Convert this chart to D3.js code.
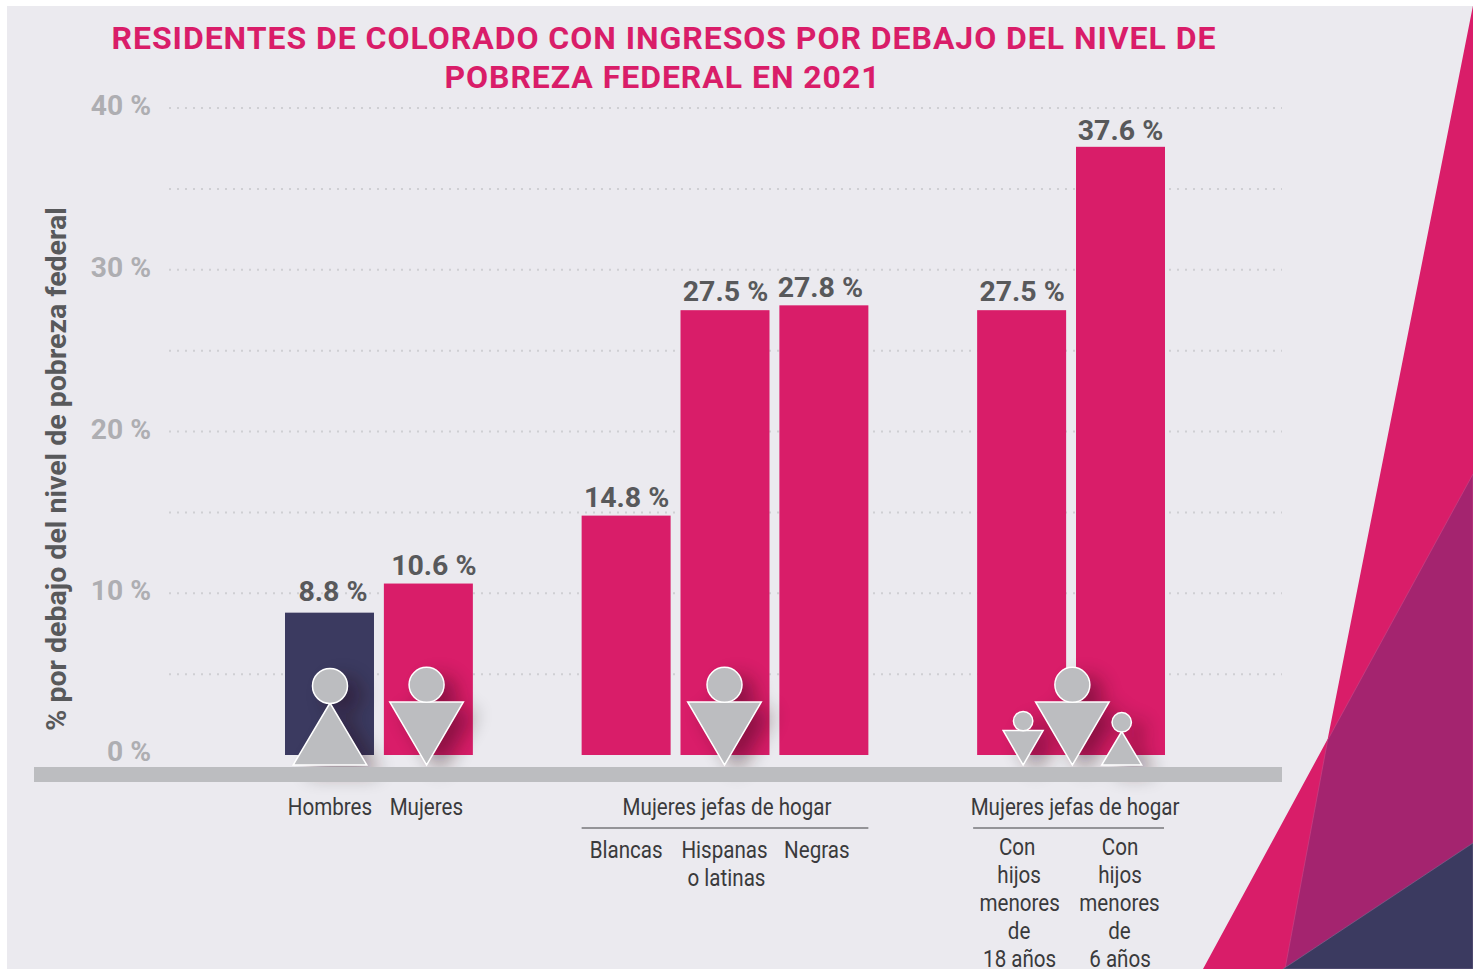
<!DOCTYPE html>
<html><head><meta charset="utf-8">
<script src="https://cdn.jsdelivr.net/npm/d3@7/dist/d3.min.js"></script>
<style>html,body{margin:0;padding:0;background:#fff;overflow:hidden}svg{display:block}text{font-family:Roboto,sans-serif}</style>
</head><body><svg id="c" width="1473" height="969"></svg>
<script>
// ---- data ----
const titleLines = ["RESIDENTES DE COLORADO CON INGRESOS POR DEBAJO DEL NIVEL DE","POBREZA FEDERAL EN 2021"];
const yAxisTitle = "% por debajo del nivel de pobreza federal";
const slots = ["Hombres","Mujeres","_a","Blancas","Hispanas o latinas","Negras","_b","Hijos menores de 18","Hijos menores de 6"];
const barCategories = ["Hombres","Mujeres","Blancas","Hispanas o latinas","Negras","Hijos menores de 18","Hijos menores de 6"];
const barValues = [8.8,10.6,14.8,27.5,27.8,27.5,37.6];
const barGroups = ["men","women","women","women","women","women","women"];
const tickValues = [0,10,20,30,40];
const gridValues = [5,10,15,20,25,30,35,40];
const iconKinds = ["man","woman","woman","woman","woman","man"];
const iconScales = ["big","big","big","small","big","small"];
const groupLabel = "Mujeres jefas de hogar";

// ---- layout / style (kept apart from the data) ----
const PINK="#d91d69",NAVY="#3b3a60",PURPLE="#a4246f",PANEL="#ebeaef",GREY="#bcbdc0";
const svg=d3.select("#c");
const x=d3.scaleBand().domain(slots).range([285,1165]).paddingInner(0.1);
const y=d3.scaleLinear().domain([0,40]).range([755,108]);
const cx=s=>x(s)+x.bandwidth()/2;
const defs=svg.append("defs");
const f=defs.append("filter").attr("id","sh").attr("x","-60%").attr("y","-60%").attr("width","220%").attr("height","220%");
f.append("feGaussianBlur").attr("stdDeviation",10);

// background
svg.append("rect").attr("x",7).attr("y",6).attr("width",1466).attr("height",963).attr("fill",PANEL);
const poly=(pts,fill,stroke)=>svg.append("polygon").attr("points",pts.map(p=>p.join(",")).join(" ")).attr("fill",fill)
  .attr("stroke",stroke||"none").attr("stroke-width",stroke?0.6:0);
poly([[1473.5,3],[1327.7,739],[1203,969],[1473,969]],PINK);
poly([[1473,474],[1327.7,740],[1285,969],[1473,969]],PURPLE,"#c94a8a");
poly([[1283,969],[1473,843],[1473,969]],NAVY,"#7d6f96");

// title
svg.append("g").selectAll("text").data(titleLines).join("text")
  .attr("x",(d,i)=>i?662.5:664).attr("y",(d,i)=>49+i*39).attr("text-anchor","middle")
  .attr("font-size",32).attr("letter-spacing",0.95).attr("font-weight",700).attr("fill",PINK).text(d=>d);

// grid
svg.append("g").selectAll("line").data(gridValues).join("line")
  .attr("x1",169).attr("x2",1282).attr("y1",d=>y(d)).attr("y2",d=>y(d))
  .attr("stroke","#cfcfd3").attr("stroke-width",2).attr("stroke-dasharray","2 6");

// y axis
const gy=svg.append("g").attr("transform","translate(151,0)")
  .call(d3.axisLeft(y).tickValues(tickValues).tickSize(0).tickPadding(0).tickFormat(d=>d+" %"));
gy.select(".domain").remove();
gy.selectAll("text").attr("font-size",28.2).attr("font-weight",700).attr("fill","#aeaeb2")
  .attr("font-family","Roboto,sans-serif").attr("dy",null).attr("y",d=>d===0?5:6.5);
svg.append("text").attr("transform","translate(66,469) rotate(-90)").attr("text-anchor","middle")
  .attr("font-size",28.5).attr("font-weight",700).attr("fill","#58595b").text(yAxisTitle);

// bars
svg.append("g").selectAll("rect").data(barValues).join("rect")
  .attr("x",(d,i)=>x(barCategories[i])).attr("width",x.bandwidth())
  .attr("y",d=>y(d)).attr("height",d=>y(0)-y(d))
  .attr("fill",(d,i)=>barGroups[i]==="men"?NAVY:PINK);

// value labels
const labelDx=[3.5,5.5,0.5,0.5,-3.5,0.5,0];
const labelGap=[12,8.5,8.5,9,8,9,7];
svg.append("g").selectAll("text").data(barValues).join("text")
  .attr("x",(d,i)=>cx(barCategories[i])+labelDx[i]).attr("y",(d,i)=>y(d)-labelGap[i])
  .attr("text-anchor","middle").attr("font-size",28.5).attr("font-weight",700).attr("fill","#58595b")
  .text(d=>d.toFixed(1)+" %");

// icons
const iconCx=[cx("Hombres")+0.5,cx("Mujeres")-1.8,cx("Hispanas o latinas")-0.5,cx("Hijos menores de 18")+1.5,(cx("Hijos menores de 18")+cx("Hijos menores de 6"))/2+1.3,cx("Hijos menores de 6")+1.2];
const base=y(0)+10;
const geom={big:{r:17.5,hw:36.8,h:63,gap:0},small:{r:9.7,hw:20,h:34.5,gap:0}};
function iconGroup(par,i,style){
  const g=geom[iconScales[i]],c=iconCx[i],k=iconKinds[i];
  const top=base-g.h;
  const pts=k==="man"?[[c,top+1],[c-g.hw,base],[c+g.hw,base]]:[[c-g.hw,top],[c+g.hw,top],[c,base]];
  const cy=top-g.r+(k==="man"?1.5:0.3);
  par.append("polygon").attr("points",pts.map(p=>p.join(",")).join(" ")).call(style);
  par.append("circle").attr("cx",c).attr("cy",cy).attr("r",g.r).call(style);
}
const shadow=svg.append("g").attr("filter","url(#sh)").attr("transform","translate(13,9)").attr("opacity",0.42);
iconKinds.forEach((k,i)=>iconGroup(shadow,i,s=>s.attr("fill","#200008")));

// base band
svg.append("rect").attr("x",34).attr("y",767).attr("width",1248).attr("height",15).attr("fill",GREY);

const icons=svg.append("g");
iconKinds.forEach((k,i)=>iconGroup(icons,i,s=>s.attr("fill",GREY).attr("stroke","#fff").attr("stroke-width",1.5)));

// category labels (condensed)
const lab=svg.append("g").attr("fill","#3a3a3c").attr("font-size",23);
function label(t,xp,yp){
  lab.append("text").attr("transform",`translate(${xp},${yp}) scale(0.895,1)`).attr("text-anchor","middle").text(t);
}
label(slots[0],cx("Hombres")+0.5,815);
label(slots[1],cx("Mujeres")-2,815);
const g2=cx("Hispanas o latinas"),g3=(cx("Hijos menores de 18")+cx("Hijos menores de 6"))/2;
label(groupLabel,g2+2,815);
label(groupLabel,g3+4,815);
label("Blancas",cx("Blancas"),858);
label("Hispanas",g2-0.5,858);
label("o latinas",g2+1.5,886);
label("Negras",cx("Negras")-7,858);
[["Con",-4.5],["hijos",-2.5],["menores",-2],["de",-2.5],["18 años",-2]].forEach((d,i)=>label(d[0],cx("Hijos menores de 18")+d[1],855+i*28));
[["Con",-0.5],["hijos",-0.5],["menores",-1],["de",-1],["6 años",-0.5]].forEach((d,i)=>label(d[0],cx("Hijos menores de 6")+d[1],855+i*28));
const rule=svg.append("g").attr("stroke","#77777b").attr("stroke-width",1.4);
rule.append("line").attr("x1",x("Blancas")).attr("x2",x("Negras")+x.bandwidth()).attr("y1",828).attr("y2",828);
rule.append("line").attr("x1",x("Hijos menores de 18")-4).attr("x2",x("Hijos menores de 6")+x.bandwidth()-1).attr("y1",828).attr("y2",828);
</script></body></html>
